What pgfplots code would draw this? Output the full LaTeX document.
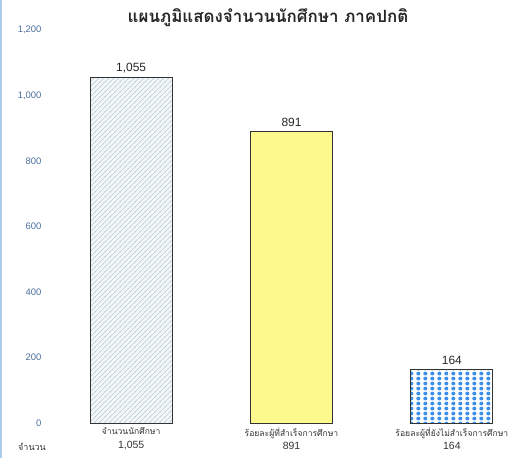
\documentclass[border=0pt]{standalone}
\usepackage{fontspec}
\setmainfont{Liberation Sans}
\newfontfamily\thaifont[Script=Thai]{Loma}
\usepackage{pgfplots}
\pgfplotsset{compat=1.18}
\usetikzlibrary{patterns,patterns.meta}
\definecolor{hatchc}{HTML}{B9CAD4}
\definecolor{hatchbg}{HTML}{F4F8FA}
\definecolor{barY}{HTML}{FDF98C}
\definecolor{dotc}{HTML}{3D8FEA}
\definecolor{tickc}{HTML}{4C6E9E}
\definecolor{edgeb}{HTML}{A9CDEB}
\tikzdeclarepattern{
  name=mylines,
  type=uncolored,
  bounding box={(0,0) and (4.5bp,4.5bp)},
  tile size={(4.5bp,4.5bp)},
  code={\draw[line width=0.7bp] (-0.5bp,-0.5bp) -- (5bp,5bp);
        \draw[line width=0.7bp] (-2.75bp,1.75bp) -- (0.5bp,5bp);
        \draw[line width=0.7bp] (4bp,-0.5bp) -- (5bp,0.5bp);}
}
\tikzdeclarepattern{
  name=bigdots,
  type=uncolored,
  bounding box={(0,0) and (6.8bp,5.4bp)},
  tile size={(6.8bp,5.4bp)},
  code={\fill (3.4bp,2.7bp) circle (2.1bp);}
}
\pgfplotstableread{
x y
0 1055
}\tabA
\pgfplotstableread{
x y
1 891
}\tabB
\pgfplotstableread{
x y
2 164
}\tabC
\begin{document}
\begin{tikzpicture}[x=1bp,y=1bp]
\path[use as bounding box] (0,0) rectangle (532,458);
\draw[edgeb, line width=2bp] (1,0) -- (1,458);
\node[font=\thaifont\bfseries\fontsize{17}{19}\selectfont, text=black!85] at (268,440) {แผนภูมิแสดงจำนวนนักศึกษา ภาคปกติ};
\node[font=\thaifont\fontsize{9}{10}\selectfont, text=black!80] at (32,11) {จำนวน};
\begin{axis}[
  at={(51bp,35bp)}, anchor=south west,
  scale only axis,
  width=481bp, height=393bp,
  xmin=-0.5, xmax=2.5,
  ymin=0, ymax=1200,
  ytick={0,200,400,600,800,1000,1200},
  xtick={0,1,2},
  xticklabels={{\thaifont จำนวนนักศึกษา\\[2.5bp]\fontsize{10.5}{11}\selectfont 1,055},
               {\thaifont ร้อยละผู้ที่สำเร็จการศึกษา\\[2.5bp]\fontsize{10.5}{11}\selectfont 891},
               {\thaifont ร้อยละผู้ที่ยังไม่สำเร็จการศึกษา\\[2.5bp]\fontsize{10.5}{11}\selectfont 164}},
  xticklabel style={align=center, font=\fontsize{8.6}{11}\selectfont, anchor=north, yshift=-1bp, text=black!80},
  yticklabel style={font=\fontsize{9.5}{10}\selectfont, text=tickc, anchor=east, xshift=-6bp},
  /pgf/number format/.cd, 1000 sep={,}, assume math mode=true,
  /pgfplots/.cd,
  axis line style={draw=none},
  tick style={draw=none},
  major tick length=0pt,
  ybar, bar width=82bp, bar shift=0pt,
  nodes near coords,
  nodes near coords style={font=\fontsize{12}{13}\selectfont, text=black!85, /pgf/number format/1000 sep={,}, /pgf/number format/assume math mode=true, yshift=1bp},
  clip=false,
]
\addplot[ybar, draw=black!80, line width=0.8bp,
  preaction={fill=hatchbg}, pattern=mylines, pattern color=hatchc]
  table[x=x,y=y] {\tabA};
\addplot[ybar, draw=black!80, line width=0.8bp, fill=barY]
  table[x=x,y=y] {\tabB};
\addplot[ybar, draw=black!80, line width=0.8bp,
  preaction={fill=white}, pattern=bigdots, pattern color=dotc]
  table[x=x,y=y] {\tabC};
\end{axis}
\end{tikzpicture}
\end{document}
